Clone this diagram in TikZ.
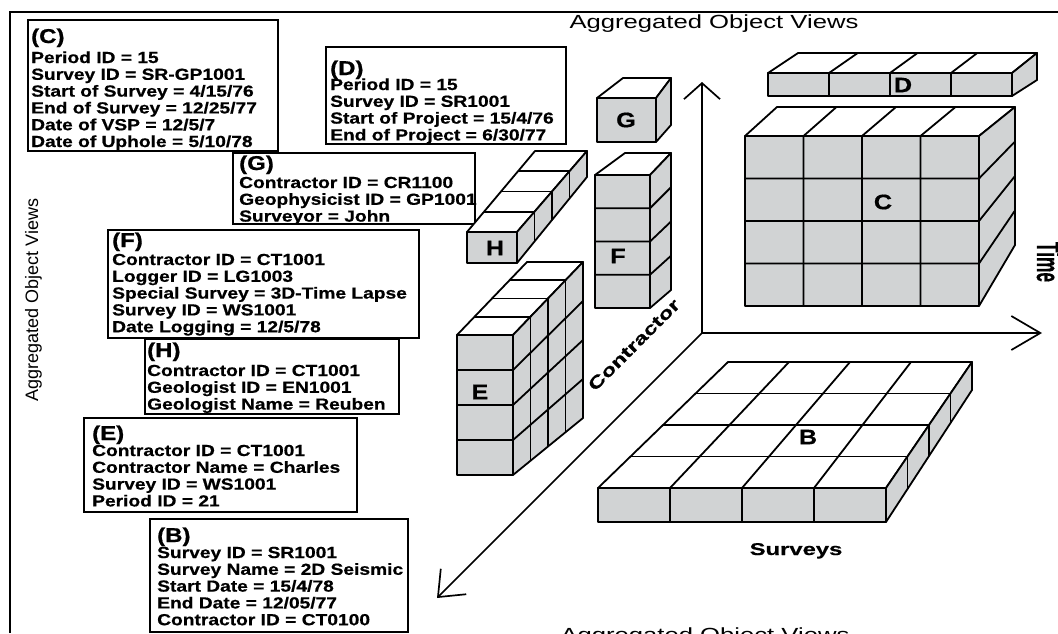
\documentclass[tikz,border=0pt]{standalone}
\usepackage{fontspec}
\usepackage{graphicx}
\setmainfont{Liberation Sans}
\newfontfamily\widesans[FakeStretch=1.2,FakeBold=0.6]{Liberation Sans}
\newfontfamily\widersans[FakeStretch=1.4,FakeBold=0.6]{Liberation Sans}
\newfontfamily\viewsans[FakeStretch=1.35]{Liberation Sans}
\usetikzlibrary{calc,arrows.meta}
\definecolor{cubegray}{RGB}{209,211,212}

\newcommand\boxheadfont{\widesans\bfseries\fontsize{20}{22}\selectfont}
\newcommand\boxbodyfont{\widesans\bfseries\fontsize{16}{16.8}\selectfont}

% A block of cells: front face (top-left, bottom-right), back face
% (top-left, bottom-right), then cells across, down and in depth.
\newcommand\drawblock[8]{%
  \coordinate (#1ftl) at #2;
  \coordinate (#1fbr) at #3;
  \coordinate (#1ftr) at (#1fbr |- #1ftl);
  \coordinate (#1fbl) at (#1ftl |- #1fbr);
  \coordinate (#1btl) at #4;
  \coordinate (#1bbr) at #5;
  \coordinate (#1btr) at (#1bbr |- #1btl);
  \filldraw[cubeline, fill=white] (#1ftl) -- (#1ftr) -- (#1btr) -- (#1btl) -- cycle;
  \filldraw[cubeline, fill=cubegray] (#1ftr) -- (#1fbr) -- (#1bbr) -- (#1btr) -- cycle;
  \filldraw[cubeline, fill=cubegray] (#1ftl) rectangle (#1fbr);
  \foreach \i in {1,...,#6}{\ifnum\i<#6\relax
    \draw[cubeline] ($(#1fbl)!\i/#6!(#1fbr)$) -- ($(#1ftl)!\i/#6!(#1ftr)$) -- ($(#1btl)!\i/#6!(#1btr)$);\fi}
  \foreach \j in {1,...,#7}{\ifnum\j<#7\relax
    \draw[cubeline] ($(#1ftl)!\j/#7!(#1fbl)$) -- ($(#1ftr)!\j/#7!(#1fbr)$) -- ($(#1btr)!\j/#7!(#1bbr)$);\fi}
  \foreach \k in {1,...,#8}{\ifnum\k<#8\relax
    \draw[cubeline] ($(#1ftl)!\k/#8!(#1btl)$) -- ($(#1ftr)!\k/#8!(#1btr)$) -- ($(#1fbr)!\k/#8!(#1bbr)$);\fi}
}

\begin{document}
\begin{tikzpicture}[x=1pt, y=-1pt,
  frameline/.style={line width=1.5pt},
  infobox/.style={draw, line width=2pt, fill=white, anchor=north west, inner sep=0pt},
  boxhead/.style={font=\boxheadfont, inner sep=0pt, anchor=base west},
  boxbody/.style={font=\boxbodyfont, inner sep=0pt, anchor=base west},
  cubeline/.style={line width=1.8pt, line join=round},
  cubelab/.style={font=\widesans\bfseries\fontsize{21}{21}\selectfont, inner sep=0pt},
  axisline/.style={line width=1.7pt},
  axislab/.style={font=\widersans\bfseries\fontsize{17}{17}\selectfont, inner sep=0pt, anchor=base},
  viewlab/.style={font=\viewsans\fontsize{19}{19}\selectfont, inner sep=0pt, anchor=base}]
\useasboundingbox (0,0) rectangle (1058,633);

% outer frame
\coordinate (frameBL) at (10,633);
\coordinate (frameTL) at (10,12);
\coordinate (frameTR) at (1058,12);
\draw[frameline] (frameBL) -- (frameTL) -- (frameTR);

% attribute boxes
\node[infobox, minimum width=250pt, minimum height=131pt] (boxC) at (27,19) {};
\node[boxhead] (headC) at (31,43) {(C)};
\node[boxbody] (bodyC) at (31,63) {\begin{tabular}[t]{@{}l@{}}
Period ID = 15\\ Survey ID = SR-GP1001\\ Start of Survey = 4/15/76\\
End of Survey = 12/25/77\\ Date of VSP = 12/5/7\\ Date of Uphole = 5/10/78\end{tabular}};

\node[infobox, minimum width=240pt, minimum height=97pt] (boxD) at (325,46) {};
\node[boxhead] (headD) at (330,75) {(D)};
\node[boxbody] (bodyD) at (330,90) {\begin{tabular}[t]{@{}l@{}}
Period ID = 15\\ Survey ID = SR1001\\ Start of Project = 15/4/76\\
End of Project = 6/30/77\end{tabular}};

\node[infobox, minimum width=242pt, minimum height=71pt] (boxG) at (232,152) {};
\node[boxhead] (headG) at (239,170) {(G)};
\node[boxbody] (bodyG) at (239,188) {\begin{tabular}[t]{@{}l@{}}
Contractor ID = CR1100\\ Geophysicist ID = GP1001\\ Surveyor = John\end{tabular}};

\node[infobox, minimum width=311pt, minimum height=108pt] (boxF) at (107,229) {};
\node[boxhead] (headF) at (112,247) {(F)};
\node[boxbody] (bodyF) at (112,265) {\begin{tabular}[t]{@{}l@{}}
Contractor ID = CT1001\\ Logger ID = LG1003\\ Special Survey = 3D-Time Lapse\\
Survey ID = WS1001\\ Date Logging = 12/5/78\end{tabular}};

\node[infobox, minimum width=254pt, minimum height=75pt] (boxH) at (144,338) {};
\node[boxhead] (headH) at (147,357) {(H)};
\node[boxbody] (bodyH) at (147,376) {\begin{tabular}[t]{@{}l@{}}
Contractor ID = CT1001\\ Geologist ID = EN1001\\ Geologist Name = Reuben\end{tabular}};

\node[infobox, minimum width=273pt, minimum height=94pt] (boxE) at (83,417) {};
\node[boxhead] (headE) at (92,440) {(E)};
\node[boxbody] (bodyE) at (92,456) {\begin{tabular}[t]{@{}l@{}}
Contractor ID = CT1001\\ Contractor Name = Charles\\ Survey ID = WS1001\\
Period ID = 21\end{tabular}};

\node[infobox, minimum width=258pt, minimum height=113pt] (boxB) at (149,518) {};
\node[boxhead] (headB) at (157,542) {(B)};
\node[boxbody] (bodyB) at (157,558) {\begin{tabular}[t]{@{}l@{}}
Survey ID = SR1001\\ Survey Name = 2D Seismic\\ Start Date = 15/4/78\\
End Date = 12/05/77\\ Contractor ID = CT0100\end{tabular}};

% axes
\coordinate (origin) at (702,333);
\coordinate (timeTip) at (702,82);
\coordinate (surveyTip) at (1042,333);
\coordinate (contractorTip) at (437,598);
\draw[axisline, -{Straight Barb[length=16pt,width=36pt]}] (origin) -- (timeTip);
\draw[axisline, -{Straight Barb[length=29pt,width=34pt]}] (origin) -- (surveyTip);
\draw[axisline, -{Straight Barb[length=22pt,width=36pt]}] (origin) -- (contractorTip);

% aggregated blocks
\drawblock{G}{(597,98)}{(656,142)}{(623,78)}{(671,125)}{1}{1}{1}
\drawblock{F}{(595,175)}{(650,308)}{(625,153)}{(671,290)}{1}{4}{1}
\drawblock{H}{(467,232)}{(517,263)}{(535,151)}{(587,177)}{1}{1}{4}
\drawblock{E}{(457,335)}{(513,475)}{(527,262)}{(583,418)}{1}{4}{4}
\drawblock{D}{(768,73)}{(1012,96)}{(798,53)}{(1037,80)}{4}{1}{1}
\drawblock{C}{(745,136)}{(979,306)}{(777,107)}{(1015,245)}{4}{4}{1}
\drawblock{B}{(598,488)}{(886,522)}{(728,362)}{(972,390)}{4}{1}{4}

\node[cubelab] (labG) at (626,120) {G};
\node[cubelab] (labF) at (618,256) {F};
\node[cubelab] (labH) at (495,248) {H};
\node[cubelab] (labE) at (480,392) {E};
\node[cubelab] (labD) at (903,85) {D};
\node[cubelab] (labC) at (883,202) {C};
\node[cubelab] (labB) at (808,437) {B};

% axis titles
\node[axislab] (labSurveys) at (796,555) {Surveys};
\node[axislab, rotate=45] (labContractor) at (638,349) {Contractor};
\node[font=\widesans\bfseries\fontsize{17}{17}\selectfont, inner sep=0pt, anchor=base, rotate=-90] (labTime) at (1037,262) {\scalebox{0.85}[1.9]{Time}};

% view captions
\node[viewlab] (viewTop) at (714,28) {Aggregated Object Views};
\node[viewlab] (viewBottom) at (705,641) {Aggregated Object Views};
\node[font=\fontsize{18}{18}\selectfont, inner sep=0pt, anchor=base, rotate=90] (viewLeft) at (38,300) {Aggregated Object Views};
\end{tikzpicture}
\end{document}
